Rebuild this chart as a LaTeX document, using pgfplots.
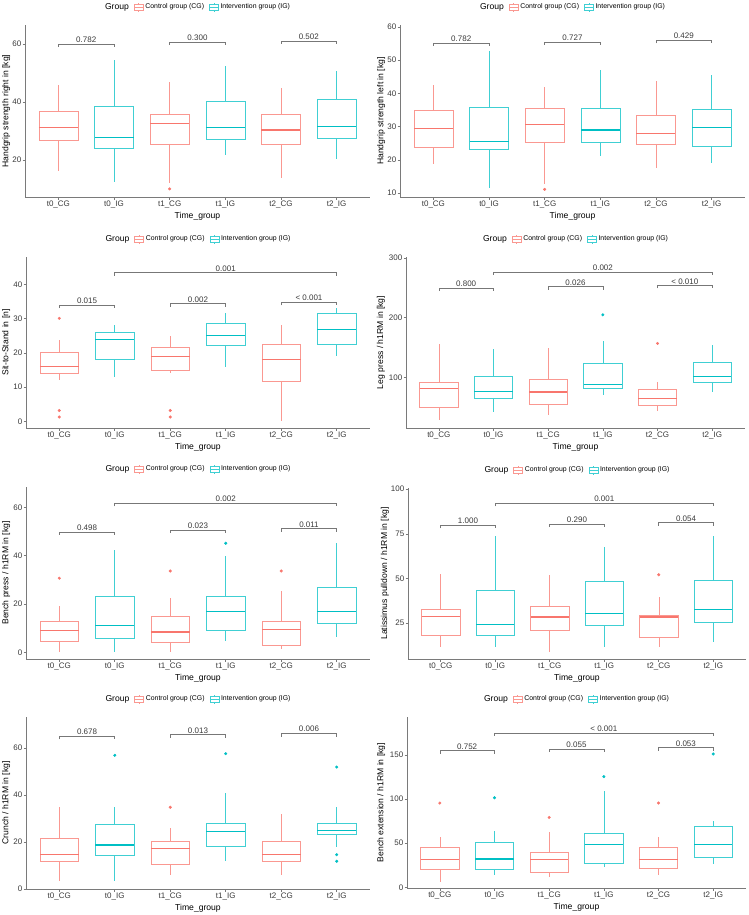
\documentclass[border=0pt]{standalone}
\usepackage{fontspec}
\setmainfont{Liberation Sans}
\usepackage{pgfplots}
\pgfplotsset{compat=1.18}
\usepgfplotslibrary{statistics}
\definecolor{cgcol}{HTML}{F8766D}
\definecolor{igcol}{HTML}{00BFC4}
\definecolor{axcol}{HTML}{7A7A7A}
\definecolor{brcol}{HTML}{777777}
\definecolor{tkcol}{HTML}{3A3A3A}
\newcommand{\bx}[7]{\addplot[draw=#1!75!white, forget plot, line width=0.55pt, boxplot/every median/.style={draw=#1, line width=1.3pt}, boxplot prepared={draw position=#2, lower whisker=#3, lower quartile=#4, median=#5, upper quartile=#6, upper whisker=#7}] coordinates {};}
\newcommand{\br}[6]{\addplot[brcol, line width=0.6pt, forget plot] coordinates {(#1,#4)(#1,#3)(#2,#3)(#2,#4)};
\node[above, inner sep=1.2pt, font=\fontsize{8}{9}\selectfont, text=tkcol] at (axis cs:#6,#3) {#5};}
\newcommand{\outl}[2]{\addplot[only marks, mark=*, mark size=1.3pt, #1, forget plot] coordinates {#2};}
\newcommand{\leg}{%
\addlegendimage{empty legend}\addlegendentry{\fontsize{8.6}{10}\selectfont Group}
\addlegendimage{bxlegend, draw=cgcol!75!white}\addlegendentry{Control group (CG)}
\addlegendimage{bxlegend, draw=igcol!75!white}\addlegendentry{Intervention group (IG)}}
\pgfplotsset{
 bxlegend/.style={legend image code/.code={\draw[#1, line width=0.5pt] (0pt,-3pt) rectangle (9pt,3pt) (0pt,0pt)--(9pt,0pt) (4.5pt,3pt)--(4.5pt,4.5pt) (4.5pt,-3pt)--(4.5pt,-4.5pt);}},
 panel/.style={
  scale only axis,
  xmin=0.4, xmax=6.6, xtick={1,2,3,4,5,6},
  xticklabels={t0\_CG,t0\_IG,t1\_CG,t1\_IG,t2\_CG,t2\_IG},
  axis lines=left, axis line style={-, draw=axcol, line width=0.6pt},
  tick align=outside, major tick length=2.5pt, tick style={draw=axcol, line width=0.6pt},
  ticklabel style={font=\fontsize{8}{9}\selectfont, text=tkcol},
  yticklabel style={inner sep=1pt},
  xticklabel style={inner sep=1.2pt},
  /pgf/number format/assume math mode=true,
  xlabel={Time\_group},
  every axis x label/.style={at={(axis description cs:0.5,-0.113)}, anchor=center},
  every axis y label/.style={rotate=90, anchor=center},
  label style={font=\fontsize{8.6}{10}\selectfont},
  boxplot/draw direction=y,
  boxplot/box extend=0.7, boxplot/whisker extend=0,
  legend style={at={(0.5,1.104)}, anchor=center, draw=none, fill=none, legend columns=-1,
   font=\fontsize{6.9}{8}\selectfont, inner sep=0pt,
   /tikz/every even column/.append style={column sep=3pt}},
 }
}
\begin{document}
\begin{tikzpicture}
\useasboundingbox (0,0) rectangle (749pt,-915pt);
% Panel 1
\begin{axis}[panel, at={(25pt,-197pt)}, anchor=south west, width=345pt, height=172pt,
 ymin=7.2, ymax=66.5, ytick={20,40,60}, ylabel={Handgrip strength right in [kg]},
 ylabel style={at={(axis description cs:-0.055,0.5)}}]
\leg
\bx{cgcol}{1}{16.0}{26.7}{31.1}{36.9}{45.9}
\bx{igcol}{2}{12.5}{24.0}{27.8}{38.6}{54.5}
\bx{cgcol}{3}{12.0}{25.5}{32.6}{35.7}{47.0}
\bx{igcol}{4}{21.7}{27.1}{31.1}{40.3}{52.4}
\bx{cgcol}{5}{13.7}{25.5}{30.3}{35.7}{44.7}
\bx{igcol}{6}{20.2}{27.5}{31.5}{40.9}{50.7}
\outl{cgcol}{(3,10.0)}
\br{1}{2}{60.0}{59.0}{0.782}{1.5}
\br{3}{4}{60.6}{59.6}{0.300}{3.5}
\br{5}{6}{61.0}{60.0}{0.502}{5.5}
\end{axis}
% Panel 2
\begin{axis}[panel, at={(400pt,-197pt)}, anchor=south west, width=345pt, height=172pt,
 ymin=8.8, ymax=60.6, ytick={10,20,30,40,50,60}, ylabel={Handgrip strength left in [kg]},
 ylabel style={at={(axis description cs:-0.055,0.5)}}]
\leg
\bx{cgcol}{1}{18.6}{23.7}{29.5}{34.8}{42.6}
\bx{igcol}{2}{11.5}{23.1}{25.6}{35.8}{52.9}
\bx{cgcol}{3}{12.8}{25.4}{30.7}{35.4}{41.9}
\bx{igcol}{4}{21.2}{25.2}{29.0}{35.4}{47.1}
\bx{cgcol}{5}{17.6}{24.8}{27.9}{33.4}{43.6}
\bx{igcol}{6}{18.9}{24.2}{29.7}{35.1}{45.6}
\outl{cgcol}{(3,11.1)}
\br{1}{2}{55.2}{54.3}{0.782}{1.5}
\br{3}{4}{55.5}{54.6}{0.727}{3.5}
\br{5}{6}{56.0}{55.1}{0.429}{5.5}
\end{axis}
% Panel 3
\begin{axis}[panel, at={(26pt,-428pt)}, anchor=south west, width=344pt, height=171pt,
 ymin=-1.9, ymax=48, ytick={0,10,20,30,40}, ylabel={Sit-to-Stand in [n]},
 ylabel style={at={(axis description cs:-0.058,0.5)}}]
\leg
\bx{cgcol}{1}{12.1}{14.0}{16.0}{20.1}{23.8}
\bx{igcol}{2}{13.1}{18.2}{24.0}{26.0}{28.2}
\bx{cgcol}{3}{14.1}{15.0}{18.9}{21.6}{25.0}
\bx{igcol}{4}{16.0}{22.1}{25.0}{28.8}{31.8}
\bx{cgcol}{5}{0.2}{11.7}{18.0}{22.6}{28.2}
\bx{igcol}{6}{19.1}{22.5}{26.9}{31.7}{33.0}
\outl{cgcol}{(1,30.1)(1,3.2)(1,1.3)(3,3.2)(3,1.3)}
\br{1}{2}{34.0}{33.1}{0.015}{1.5}
\br{3}{4}{34.4}{33.5}{0.002}{3.5}
\br{5}{6}{34.8}{33.9}{< 0.001}{5.5}
\br{2}{6}{43.4}{42.5}{0.001}{4}
\end{axis}
% Panel 4
\begin{axis}[panel, at={(406pt,-428pt)}, anchor=south west, width=339pt, height=171pt,
 ymin=15, ymax=302, ytick={100,200,300}, ylabel={Leg press / h1RM in [kg]},
 ylabel style={at={(axis description cs:-0.074,0.5)}}]
\leg
\bx{cgcol}{1}{29.1}{49.7}{81.0}{92.2}{155.9}
\bx{igcol}{2}{41.9}{65.4}{76.5}{101.7}{148.0}
\bx{cgcol}{3}{36.3}{55.3}{75.4}{97.2}{149.2}
\bx{igcol}{4}{71.0}{82.1}{87.7}{124.0}{160.3}
\bx{cgcol}{5}{43.0}{53.6}{64.8}{80.4}{92.2}
\bx{igcol}{6}{74.9}{92.2}{101.1}{125.1}{153.6}
\outl{igcol}{(4,205)}
\outl{cgcol}{(5,157)}
\br{1}{2}{249.7}{244.7}{0.800}{1.5}
\br{3}{4}{252.0}{247.0}{0.026}{3.5}
\br{5}{6}{254.2}{249.2}{< 0.010}{5.5}
\br{2}{6}{277.1}{272.1}{0.002}{4}
\end{axis}
% Panel 5
\begin{axis}[panel, at={(26pt,-659pt)}, anchor=south west, width=344pt, height=172pt,
 ymin=-2.8, ymax=68.5, ytick={0,20,40,60}, ylabel={Bench press / h1RM in [kg]},
 ylabel style={at={(axis description cs:-0.058,0.5)}}]
\leg
\bx{cgcol}{1}{0.3}{4.7}{9.1}{12.7}{19.2}
\bx{igcol}{2}{0.3}{5.8}{11.2}{23.1}{42.5}
\bx{cgcol}{3}{0.3}{4.0}{8.4}{14.8}{22.4}
\bx{igcol}{4}{4.7}{9.0}{17.0}{23.1}{39.7}
\bx{cgcol}{5}{1.4}{2.8}{9.5}{12.7}{25.4}
\bx{igcol}{6}{6.5}{11.9}{17.0}{26.8}{45.2}
\outl{cgcol}{(1,30.7)(3,33.7)(5,33.7)}
\outl{igcol}{(4,45.2)}
\br{1}{2}{49.9}{48.65}{0.498}{1.5}
\br{3}{4}{50.6}{49.35}{0.023}{3.5}
\br{5}{6}{51.2}{49.95}{0.011}{5.5}
\br{2}{6}{61.7}{60.45}{0.002}{4}
\end{axis}
% Panel 6
\begin{axis}[panel, at={(408pt,-659pt)}, anchor=south west, width=338pt, height=171pt,
 ymin=5, ymax=100.6, ytick={25,50,75,100}, ylabel={Latissimus pulldown / h1RM in [kg]},
 ylabel style={at={(axis description cs:-0.068,0.5)}}]
\leg
\bx{cgcol}{1}{11.9}{18.5}{28.7}{32.8}{52.4}
\bx{igcol}{2}{11.9}{18.1}{24.1}{43.3}{73.5}
\bx{cgcol}{3}{9.1}{21.3}{28.5}{34.3}{51.7}
\bx{igcol}{4}{11.9}{23.9}{30.6}{48.7}{67.9}
\bx{cgcol}{5}{11.9}{17.4}{28.5}{29.2}{39.9}
\bx{igcol}{6}{14.7}{25.4}{32.8}{49.1}{73.5}
\outl{cgcol}{(5,52.1)}
\br{1}{2}{79.7}{78.0}{1.000}{1.5}
\br{3}{4}{80.4}{78.7}{0.290}{3.5}
\br{5}{6}{81.3}{79.6}{0.054}{5.5}
\br{2}{6}{92.0}{90.3}{0.001}{4}
\end{axis}
% Panel 7
\begin{axis}[panel, at={(26pt,-889pt)}, anchor=south west, width=344pt, height=172pt,
 ymin=0, ymax=73.2, ytick={0,20,40,60}, ylabel={Crunch / h1RM in [kg]},
 ylabel style={at={(axis description cs:-0.058,0.5)}}]
\leg
\bx{cgcol}{1}{3.3}{11.8}{14.6}{21.6}{34.8}
\bx{igcol}{2}{3.3}{14.3}{18.7}{27.4}{34.8}
\bx{cgcol}{3}{5.8}{10.6}{17.3}{20.3}{26.0}
\bx{igcol}{4}{11.8}{18.2}{24.4}{28.1}{40.9}
\bx{cgcol}{5}{5.8}{11.8}{14.6}{20.3}{31.9}
\bx{igcol}{6}{17.7}{23.1}{24.8}{28.1}{34.8}
\outl{cgcol}{(3,34.8)}
\outl{igcol}{(2,56.9)(4,57.6)(6,51.9)(6,14.6)(6,11.8)}
\br{1}{2}{65.0}{63.7}{0.678}{1.5}
\br{3}{4}{65.7}{64.4}{0.013}{3.5}
\br{5}{6}{66.2}{64.9}{0.006}{5.5}
\end{axis}
% Panel 8
\begin{axis}[panel, at={(407pt,-888pt)}, anchor=south west, width=339pt, height=171pt,
 ymin=-0.8, ymax=193, ytick={0,50,100,150}, ylabel={Bench extension / h1RM in [kg]},
 ylabel style={at={(axis description cs:-0.076,0.5)}}]
\leg
\bx{cgcol}{1}{6.1}{20.1}{31.8}{45.8}{57.2}
\bx{igcol}{2}{14.4}{20.1}{32.2}{51.5}{63.6}
\bx{cgcol}{3}{12.1}{16.7}{31.8}{39.4}{62.9}
\bx{igcol}{4}{23.1}{26.9}{48.5}{61.7}{109.1}
\bx{cgcol}{5}{13.6}{21.2}{31.8}{45.8}{57.2}
\bx{igcol}{6}{26.1}{33.7}{48.5}{68.6}{75.0}
\outl{cgcol}{(1,95.5)(3,79.2)(5,95.5)}
\outl{igcol}{(2,101.5)(4,125.4)(6,151.1)}
\br{1}{2}{155.0}{151.6}{0.752}{1.5}
\br{3}{4}{156.8}{153.4}{0.055}{3.5}
\br{5}{6}{158.3}{154.9}{0.053}{5.5}
\br{2}{6}{175.0}{171.6}{< 0.001}{4}
\end{axis}
\end{tikzpicture}
\end{document}
